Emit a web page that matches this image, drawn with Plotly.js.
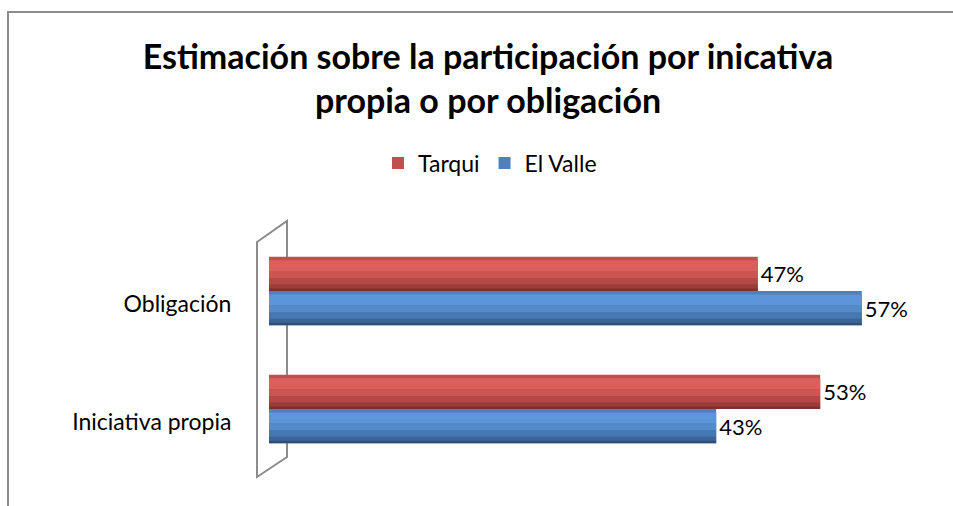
<!DOCTYPE html>
<html>
<head>
<meta charset="utf-8">
<script src="https://cdn.plot.ly/plotly-3.0.1.min.js"></script>
<style>html,body{margin:0;padding:0;background:#fff;}#chart{width:953px;height:506px;}</style>
</head>
<body>
<div id="chart"></div>
<script>
const categories = ['Obligación', 'Iniciativa propia'];
const seriesNames = ['Tarqui', 'El Valle'];
const tarqui = [47, 53];
const elValle = [57, 43];

const W = 953, H = 506;
const L = 267, R = 8, T = 232, B = 38;
const pw = W - L - R, ph = H - T - B;
const px = x => (x - L) / pw;
const py = y => (H - B - y) / ph;

const FONT = 'Lato, "Open Sans", sans-serif';
const barW = 0.29;
const SCALE = 10.4;
const ZERO = 269;

const bands = [[0.10, 0.42, 0], [0.42, 0.62, 1], [0.62, 0.80, 2], [0.80, 0.92, 3], [0.92, 1.0, 4]];

function series(name, vals, offset, base, shades) {
  const out = [{
    type: 'bar', orientation: 'h', name: name, y: categories, x: vals,
    offset: offset, width: barW, marker: { color: base, line: { width: 0 } },
    text: vals.map(v => v + '%'), textposition: 'outside', cliponaxis: false,
    textfont: { family: FONT, size: 22, color: '#000' }, showlegend: true, hoverinfo: 'x+name'
  }];
  bands.forEach(b => out.push({
    type: 'bar', orientation: 'h', name: name, y: categories, x: vals,
    offset: offset + barW * b[0], width: barW * (b[1] - b[0]),
    marker: { color: shades[b[2]], line: { width: 0 } }, showlegend: false, hoverinfo: 'skip'
  }));
  return out;
}

const data = [].concat(
  series(seriesNames[0], tarqui, -barW, '#c0504d', ['#da5f5d', '#cc5553', '#b44846', '#9b3c3a', '#7e2f2d']),
  series(seriesNames[1], elValle, 0, '#4f81bd', ['#5c95d9', '#528aca', '#4677b3', '#3b6597', '#2d4e77'])
);

const gray = '#8c8c8c';
const layout = {
  width: W, height: H,
  margin: { l: L, r: R, t: T, b: B },
  paper_bgcolor: '#fff', plot_bgcolor: 'rgba(0,0,0,0)',
  barmode: 'overlay',
  font: { family: FONT, color: '#000' },
  title: {
    text: '<b>Estimación sobre la participación por inicativa<br>propia o por obligación</b>',
    x: 488 / W, xanchor: 'center', xref: 'container',
    y: 1 - 69 / H, yanchor: 'middle', yref: 'container',
    font: { family: FONT, size: 34, color: '#000' }
  },
  legend: {
    orientation: 'h', x: px(490), xanchor: 'center', y: py(163), yanchor: 'middle',
    font: { family: FONT, size: 23, color: '#000' }, itemwidth: 30, bgcolor: 'rgba(0,0,0,0)'
  },
  xaxis: { range: [(L - ZERO) / SCALE, (W - R - ZERO) / SCALE], visible: false, fixedrange: true },
  yaxis: {
    type: 'category', categoryorder: 'array', categoryarray: categories,
    autorange: 'reversed', showgrid: false, zeroline: false, showline: false,
    ticks: 'outside', ticklen: 30, tickcolor: 'rgba(0,0,0,0)',
    tickfont: { family: FONT, size: 23, color: '#000' }, ticklabelshift: -13
  },
  shapes: [
    { type: 'path', xref: 'paper', yref: 'paper', layer: 'below',
      path: `M ${px(257)} ${py(242)} L ${px(287)} ${py(221)} L ${px(287)} ${py(457)} L ${px(257)} ${py(477)} Z`,
      line: { color: gray, width: 2 }, fillcolor: 'rgba(0,0,0,0)' },
    { type: 'line', xref: 'paper', yref: 'paper', x0: px(8), x1: px(953), y0: py(12), y1: py(12),
      line: { color: gray, width: 2 } },
    { type: 'line', xref: 'paper', yref: 'paper', x0: px(8), x1: px(8), y0: py(11), y1: py(506),
      line: { color: gray, width: 2 } }
  ]
};

Plotly.newPlot('chart', data, layout, { displayModeBar: false, staticPlot: true });
</script>
</body>
</html>
